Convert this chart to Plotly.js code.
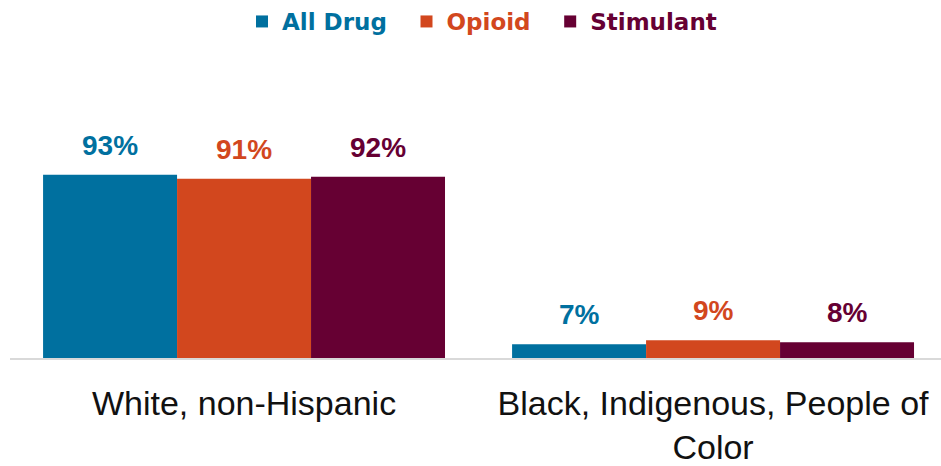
<!DOCTYPE html>
<html>
<head>
<meta charset="utf-8">
<script src="https://cdn.plot.ly/plotly-3.0.1.min.js"></script>
<style>html,body{margin:0;padding:0;background:#fff;}#chart{width:941px;height:466px;}</style>
</head>
<body>
<div id="chart"></div>
<script>
const categories = ["White, non-Hispanic", "Black, Indigenous, People of Color"];
const tickLabels = ["White, non-Hispanic", "Black, Indigenous, People of<br>Color"];
const seriesNames = ["All Drug", "Opioid", "Stimulant"];
const allDrug = [93, 7];
const opioid = [91, 9];
const stimulant = [92, 8];
const colors = ["#00709F", "#D2471E", "#660033"];

const seriesValues = [allDrug, opioid, stimulant];
const traces = seriesValues.map((vals, i) => ({
  type: "bar",
  x: categories,
  y: vals,
  name: '<span style="color:' + colors[i] + '"><b>' + seriesNames[i] + '</b></span>' +
        (i < seriesNames.length - 1 ? '\u00A0\u00A0' : ''),
  marker: {color: colors[i], line: {width: 0}},
  hoverinfo: "none"
}));

const layout = {
  width: 941, height: 466,
  margin: {l: 10, r: 0, t: 60, b: 108},
  paper_bgcolor: "#fff", plot_bgcolor: "#fff",
  barmode: "group", bargap: 0.143, bargroupgap: 0,
  showlegend: true,
  legend: {orientation: "h", x: 0.507, xanchor: "center", y: 1, yanchor: "top",
           yref: "container", font: {family: "DejaVu Sans", size: 23}, itemclick: false,
           traceorder: "normal"},
  xaxis: {type: "category", range: [-0.499, 1.486], showgrid: false, zeroline: false,
          showline: true, linecolor: "#d9d9d9", linewidth: 2, ticks: "",
          tickmode: "array", tickvals: categories, ticktext: tickLabels, ticklabelstandoff: 14,
          tickfont: {family: "Liberation Sans, Arial, sans-serif", size: 34, color: "#111"}},
  yaxis: {range: [0, 151.3], visible: false, showgrid: false, zeroline: false, fixedrange: true}
};

const gd = document.getElementById("chart");
Plotly.newPlot(gd, traces, layout, {staticPlot: true, displayModeBar: false}).then(() => {
  const annotations = [];
  gd.calcdata.forEach((cd, i) => {
    cd.forEach((d, j) => {
      annotations.push({
        x: d.x, y: seriesValues[i][j], xref: "x", yref: "y",
        text: "<b>" + seriesValues[i][j] + "%</b>",
        showarrow: false, yanchor: "bottom", yshift: 12,
        font: {family: "Liberation Sans, Arial, sans-serif", size: 28, color: colors[i]}
      });
    });
  });
  return Plotly.relayout(gd, {annotations: annotations});
});
</script>
</body>
</html>
